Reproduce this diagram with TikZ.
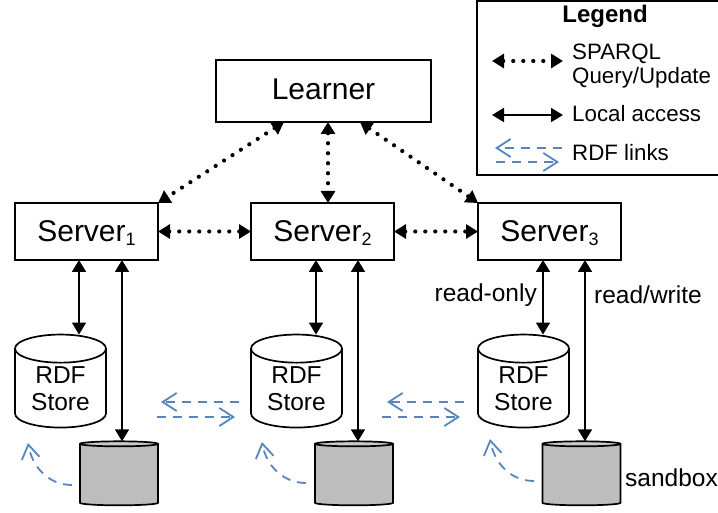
\documentclass[tikz,border=0pt]{standalone}
\usepackage{fontspec}
\setmainfont{Liberation Sans}
\usetikzlibrary{arrows.meta,shapes.geometric}
\definecolor{linkblue}{RGB}{86,133,192}
\newcommand{\fsize}[1]{\fontsize{#1}{#1}\selectfont}
\begin{document}
\begin{tikzpicture}[x=1pt,y=-1pt,line join=miter,>={Triangle[length=12pt,width=14pt]},
	box/.style={draw,line width=1.7pt,inner sep=0pt,outer sep=0pt},
	store/.style={box,cylinder,shape border rotate=90,aspect=.48,cylinder uses custom fill,cylinder body fill=white,cylinder end fill=white,minimum width=91pt,minimum height=93pt,align=center,font=\fsize{24.5}},
	sandbox/.style={store,aspect=.41,cylinder body fill=black!26,cylinder end fill=black!21,minimum width=78pt,minimum height=64pt},
	label/.style={inner sep=0pt,font=\fsize{22.3}},
	local/.style={<->,line width=1.7pt},
	query/.style={<->,line width=4.2pt,line cap=round,dash pattern=on 0pt off 10pt},
	rdflink/.style={-{Straight Barb[length=14pt,width=18pt]},linkblue,line width=1.8pt,dash pattern=on 9pt off 7pt}]
	\useasboundingbox (0,0) rectangle (718,513);
	% servers
	\node[box,minimum width=215pt,minimum height=62pt,font=\fsize{30},text depth=3.6pt] (learner) at (323.5,91) {Learner};
	\foreach \i/\x in {1/86.5,2/322.5,3/549.5}
		\node[box,minimum width=143pt,minimum height=57pt,font=\fsize{30},text depth=0pt] (srv\i) at (\x,231.5) {Server\raisebox{-4pt}{\fsize{18}\i}};
	% stores
	\foreach \i/\x in {1/60.5,2/296.5,3/523.5}
		\node[store] (rdf\i) at (\x,388.5) {RDF\\[2pt]Store};
	\foreach \i/\x in {1/119,2/354,3/581.5}
		\node[sandbox] (sb\i) at (\x,475) {\phantom{x}};
	\node[label,anchor=west,font=\fsize{24.5}] (sblabel) at (625,478) {sandbox};
	\node[label,anchor=east,font=\fsize{24.5}] (rolabel) at (537,295) {read-only};
	\node[label,anchor=west,font=\fsize{24.5}] (rwlabel) at (594,295) {read/write};
	% query links
	\draw[query] (284,0 |- learner.south)--(srv1.north east);
	\draw[query] (328,0 |- learner.south)--(328,0 |- srv2.north);
	\draw[query] (360,0 |- learner.south)--(srv3.north west);
	\draw[query] (srv1.east)--(srv2.west);
	\draw[query] (srv2.east)--(srv3.west);
	% local access
	\foreach \i/\a/\b in {1/79/122,2/316/358,3/543/585}{
		\draw[local] (\a,0 |- srv\i.south)--(\a,0 |- rdf\i.north);
		\draw[local] (\b,0 |- srv\i.south)--(\b,0 |- sb\i.north);
	}
	% rdf links
	\coordinate (a1) at (239,402); \coordinate (a2) at (161,402);
	\coordinate (b1) at (157,417); \coordinate (b2) at (235,417);
	\coordinate (c1) at (464,402); \coordinate (c2) at (387,402);
	\coordinate (d1) at (382,417); \coordinate (d2) at (460,417);
	\foreach \s/\t in {a1/a2,b1/b2,c1/c2,d1/d2} \draw[rdflink] (\s)--(\t);
	\coordinate (e1) at (28,443); \coordinate (e2) at (262,442); \coordinate (e3) at (490,439);
	\draw[rdflink] (72,0 |- 0,485) to[out=180,in=-80] (e1);
	\draw[rdflink] (306,0 |- 0,483) to[out=180,in=-80] (e2);
	\draw[rdflink] (534,0 |- 0,481) to[out=180,in=-80] (e3);
	% legend
	\node[box,minimum width=245pt,minimum height=174pt] (legend) at (599.5,88) {};
	\node[label,font=\fsize{24}\bfseries] (legtitle) at (605,16) {Legend};
	\node[label,anchor=west,align=left] (legquery) at (572,66) {SPARQL\\[1pt]Query/Update};
	\node[label,anchor=west] (leglocal) at (572,114) {Local access};
	\node[label,anchor=west] (leglink) at (572,153) {RDF links};
	\coordinate (q1) at (492,61); \coordinate (q2) at (563,61);
	\coordinate (l1) at (492,115); \coordinate (l2) at (563,115);
	\coordinate (r1) at (562,148); \coordinate (r2) at (495,148);
	\coordinate (r3) at (496,162); \coordinate (r4) at (559,162);
	\draw[query] (q1)--(q2);
	\draw[local] (l1)--(l2);
	\draw[rdflink] (r1)--(r2);
	\draw[rdflink] (r3)--(r4);
\end{tikzpicture}
\end{document}
